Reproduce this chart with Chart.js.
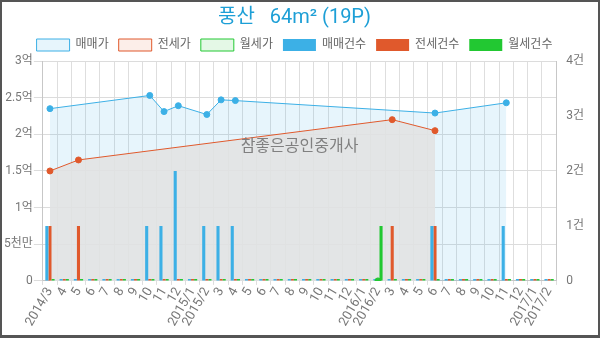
<!DOCTYPE html>
<html>
<head>
<meta charset="utf-8">
<script src="https://cdn.jsdelivr.net/npm/chart.js@4/dist/chart.umd.min.js"></script>
<style>
    html, body { margin: 0; padding: 0; background: #555; }
    #frame { position: absolute; left: 2px; top: 2px; width: 596px; height: 333px; background: #fff; }
</style>
</head>
<body>
<div id="frame"><canvas id="chart"></canvas></div>
<script>
// months 2014/3 .. 2017/2
const labels = ['2014/3', '4', '5', '6', '7', '8', '9', '10', '11', '12',
    '2015/1', '2015/2', '3', '4', '5', '6', '7', '8', '9', '10', '11', '12',
    '2016/1', '2016/2', '3', '4', '5', '6', '7', '8', '9', '10', '11', '12',
    '2017/1', '2017/2'];

// prices in 만원
const salePrice = [23500, null, null, null, null, null, null, 25300, 23100, 23900,
    null, 22700, 24700, 24600, null, null, null, null, null, null, null, null,
    null, null, null, null, null, 22900, null, null, null, null, 24300, null,
    null, null];
const jeonsePrice = [15000, null, 16500, null, null, null, null, null, null, null,
    null, null, null, null, null, null, null, null, null, null, null, null,
    null, null, 22000, null, null, 20500, null, null, null, null, null, null,
    null, null];
const monthlyPrice = [null, null, null, null, null, null, null, null, null, null,
    null, null, null, null, null, null, null, null, null, null, null, null,
    null, 0, null, null, null, null, null, null, null, null, null, null,
    null, null];

// number of deals
const saleCount = [1, 0, 0, 0, 0, 0, 0, 1, 1, 2, 0, 1, 1, 1, 0, 0, 0, 0,
    0, 0, 0, 0, 0, 0, 0, 0, 0, 1, 0, 0, 0, 0, 1, 0, 0, 0];
const jeonseCount = [1, 0, 1, 0, 0, 0, 0, 0, 0, 0, 0, 0, 0, 0, 0, 0, 0, 0,
    0, 0, 0, 0, 0, 0, 1, 0, 0, 1, 0, 0, 0, 0, 0, 0, 0, 0];
const monthlyCount = [0, 0, 0, 0, 0, 0, 0, 0, 0, 0, 0, 0, 0, 0, 0, 0, 0, 0,
    0, 0, 0, 0, 0, 1, 0, 0, 0, 0, 0, 0, 0, 0, 0, 0, 0, 0];

const priceTicks = [0, 5000, 10000, 15000, 20000, 25000, 30000];
const countTicks = [0, 1, 2, 3, 4];

const FONT = "Roboto, 'Noto Sans CJK KR', sans-serif";

function priceLabel(v) {
    if (v === 0) return '0';
    if (v < 10000) return (v / 1000) + '천만';
    return (v / 10000) + '억';
}

const watermark = {
    id: 'watermark',
    afterDatasetsDraw(chart) {
        const ctx = chart.ctx;
        const area = chart.chartArea;
        ctx.save();
        ctx.font = '16px ' + FONT;
        ctx.fillStyle = '#808080';
        ctx.textAlign = 'center';
        ctx.textBaseline = 'middle';
        ctx.fillText('참좋은공인중개사', (area.left + area.right) / 2, area.top + 86);
        ctx.restore();
    }
};

// order: higher value = drawn further below
function lineSet(label, data, color, legendFill, areaFill, order) {
    return {
        type: 'line',
        label: label,
        data: data,
        yAxisID: 'y',
        borderColor: color,
        backgroundColor: legendFill,
        borderWidth: 1,
        pointRadius: 3,
        pointBackgroundColor: color,
        pointBorderColor: color,
        tension: 0,
        spanGaps: true,
        fill: { target: 'origin', above: areaFill },
        order: order
    };
}

function barSet(label, data, color) {
    return {
        type: 'bar',
        label: label,
        data: data,
        yAxisID: 'y1',
        backgroundColor: color,
        borderWidth: 0,
        minBarLength: 2,
        categoryPercentage: 0.65,
        barPercentage: 1,
        order: 5
    };
}

new Chart(document.getElementById('chart').getContext('2d'), {
    type: 'bar',
    data: {
        labels: labels,
        datasets: [
            lineSet('매매가', salePrice, '#3cb0e6', 'rgba(60,176,230,0.12)', 'rgba(60,176,230,0.12)', 3),
            lineSet('전세가', jeonsePrice, '#e0592c', 'rgba(224,89,44,0.1)', 'rgba(226,226,226,0.88)', 2),
            lineSet('월세가', monthlyPrice, '#22c832', 'rgba(34,200,50,0.12)', 'rgba(34,200,50,0.12)', 1),
            barSet('매매건수', saleCount, '#3cb0e6'),
            barSet('전세건수', jeonseCount, '#e0592c'),
            barSet('월세건수', monthlyCount, '#22c832')
        ]
    },
    options: {
        responsive: true,
        maintainAspectRatio: false,
        animation: false,
        layout: { padding: { left: 1, right: 12, top: 2, bottom: 6 } },
        plugins: {
            filler: { drawTime: 'beforeDatasetsDraw' },
            title: {
                display: true,
                text: '풍산   64m² (19P)',
                color: '#1d9fd6',
                font: { family: FONT, size: 20, weight: 'normal' },
                padding: { top: 2, bottom: -1 }
            },
            legend: {
                labels: {
                    boxWidth: 33,
                    boxHeight: 12,
                    padding: 10,
                    color: '#666',
                    font: { family: FONT, size: 12 },
                    sort: (a, b) => a.datasetIndex - b.datasetIndex
                }
            },
            tooltip: { enabled: false }
        },
        scales: {
            x: {
                grid: { color: '#dedede', tickLength: 4 },
                ticks: {
                    color: '#777',
                    font: { family: FONT, size: 13 },
                    minRotation: 60,
                    maxRotation: 60,
                    autoSkip: false,
                    padding: 0
                }
            },
            y: {
                position: 'left',
                min: 0,
                max: 30000,
                afterBuildTicks: axis => { axis.ticks = priceTicks.map(v => ({ value: v })); },
                grid: { color: '#dcdcdc', tickLength: 9 },
                ticks: {
                    color: '#777',
                    font: { family: FONT, size: 12 },
                    padding: 1,
                    callback: v => priceLabel(v)
                }
            },
            y1: {
                position: 'right',
                min: 0,
                max: 4,
                afterBuildTicks: axis => { axis.ticks = countTicks.map(v => ({ value: v })); },
                grid: { drawOnChartArea: false, color: 'rgba(0,0,0,0)', tickLength: 8 },
                ticks: {
                    color: '#777',
                    font: { family: FONT, size: 12 },
                    padding: 2,
                    callback: v => v === 0 ? '0' : v + '건'
                }
            }
        }
    },
    plugins: [watermark]
});
</script>
</body>
</html>
